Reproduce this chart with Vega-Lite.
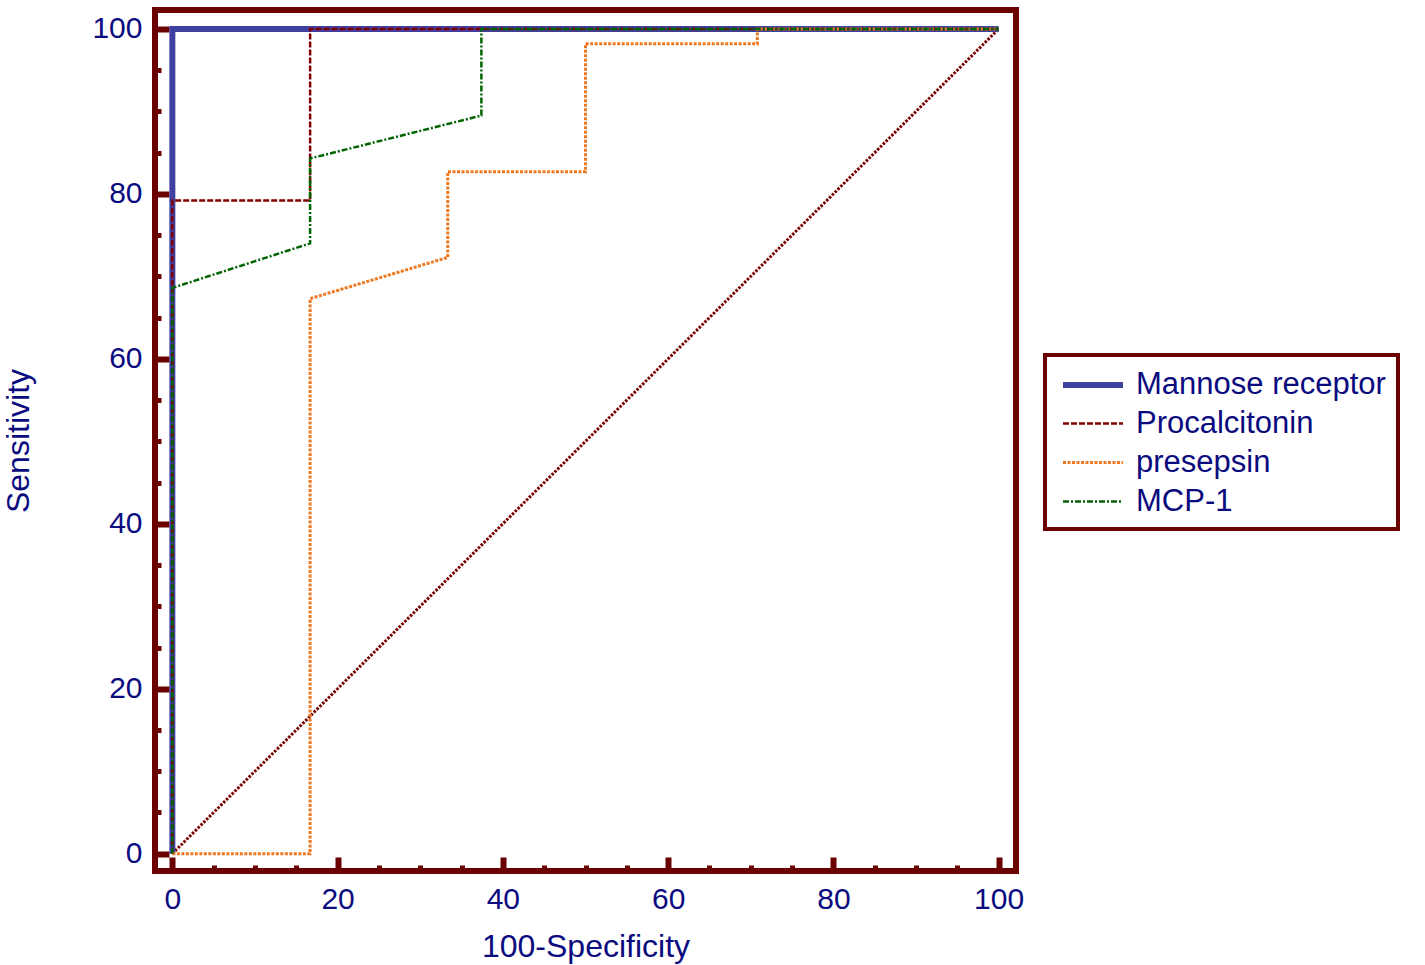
{
  "$schema": "https://vega.github.io/schema/vega-lite/v6.json",
  "width": 861,
  "height": 861,
  "autosize": {"type": "none"},
  "padding": {"left": 155, "top": 10, "right": 409, "bottom": 94},
  "background": "white",
  "config": {
    "font": "Liberation Sans",
    "view": {"stroke": "#6A0000", "strokeWidth": 6},
    "axis": {"domain": false, "grid": false, "tickColor": "#6A0000", "labelColor": "#0B0B80", "titleColor": "#0B0B80", "labelFont": "Liberation Sans", "titleFont": "Liberation Sans", "labelFontWeight": "normal", "titleFontWeight": "normal"}
  },
  "datasets": {
    "diag": [{"x": 0, "y": 0}, {"x": 100, "y": 100}],
    "roc": [
      {"test": "Mannose receptor", "i": 1, "x": 0, "y": 0},
      {"test": "Mannose receptor", "i": 2, "x": 0, "y": 100},
      {"test": "Mannose receptor", "i": 3, "x": 100, "y": 100},
      {"test": "Procalcitonin", "i": 1, "x": 0, "y": 0},
      {"test": "Procalcitonin", "i": 2, "x": 0, "y": 79.2},
      {"test": "Procalcitonin", "i": 3, "x": 16.67, "y": 79.2},
      {"test": "Procalcitonin", "i": 4, "x": 16.67, "y": 100},
      {"test": "Procalcitonin", "i": 5, "x": 100, "y": 100},
      {"test": "presepsin", "i": 1, "x": 0, "y": 0},
      {"test": "presepsin", "i": 2, "x": 16.67, "y": 0},
      {"test": "presepsin", "i": 3, "x": 16.67, "y": 67.3},
      {"test": "presepsin", "i": 4, "x": 33.33, "y": 72.3},
      {"test": "presepsin", "i": 5, "x": 33.33, "y": 82.7},
      {"test": "presepsin", "i": 6, "x": 50, "y": 82.7},
      {"test": "presepsin", "i": 7, "x": 50, "y": 98.2},
      {"test": "presepsin", "i": 8, "x": 70.8, "y": 98.2},
      {"test": "presepsin", "i": 9, "x": 70.8, "y": 100},
      {"test": "presepsin", "i": 10, "x": 100, "y": 100},
      {"test": "MCP-1", "i": 1, "x": 0, "y": 0},
      {"test": "MCP-1", "i": 2, "x": 0, "y": 68.6},
      {"test": "MCP-1", "i": 3, "x": 16.67, "y": 74},
      {"test": "MCP-1", "i": 4, "x": 16.67, "y": 84.3},
      {"test": "MCP-1", "i": 5, "x": 37.4, "y": 89.5},
      {"test": "MCP-1", "i": 6, "x": 37.4, "y": 100},
      {"test": "MCP-1", "i": 7, "x": 100, "y": 100}
    ]
  },
  "layer": [
    {
      "data": {"name": "diag"},
      "mark": {"type": "line", "color": "#7A0000", "strokeWidth": 3, "strokeDash": [2.5, 1.5]},
      "encoding": {
        "x": {"field": "x", "type": "quantitative", "scale": {"domain": [-2.1, 102.1], "nice": false, "zero": false},
          "axis": {"orient": "bottom", "values": [5,10,15,25,30,35,45,50,55,65,70,75,85,90,95], "labels": false, "title": null, "tickSize": -6, "tickWidth": 5}},
        "y": {"field": "y", "type": "quantitative", "scale": {"domain": [-2.1, 102.3], "nice": false, "zero": false},
          "axis": {"orient": "left", "values": [5,10,15,25,30,35,45,50,55,65,70,75,85,90,95], "labels": false, "title": null, "tickSize": -6, "tickWidth": 5}}
      }
    },
    {
      "data": {"name": "roc"},
      "mark": {"type": "line"},
      "encoding": {
        "x": {"field": "x", "type": "quantitative",
          "axis": {"orient": "bottom", "values": [0,20,40,60,80,100], "tickSize": -14, "tickWidth": 6, "labelPadding": 27, "labelFontSize": 30, "title": "100-Specificity", "titleFontSize": 32, "titlePadding": 17}},
        "y": {"field": "y", "type": "quantitative",
          "axis": {"orient": "left", "values": [0,20,40,60,80,100], "tickSize": -14, "tickWidth": 6, "labelPadding": 27, "labelFontSize": 30, "title": "Sensitivity", "titleFontSize": 32, "titlePadding": 56}},
        "order": {"field": "i", "type": "quantitative"},
        "color": {"field": "test", "type": "nominal", "title": null,
          "scale": {"domain": ["Mannose receptor", "Procalcitonin", "presepsin", "MCP-1"], "range": ["#4040A0", "#800000", "#F07820", "#006400"]},
          "legend": {"orient": "none", "legendX": 890, "legendY": 345, "symbolType": "M-0.8,0H3.2", "symbolSize": 900, "labelFontSize": 31, "labelColor": "#0B0B80", "labelOffset": 43, "padding": 12, "rowPadding": 7, "strokeColor": "#6A0000", "fillColor": "white", "labelLimit": 400,
            "encode": {"legend": {"update": {"strokeWidth": {"value": 4}}}}}},
        "strokeDash": {"field": "test", "type": "nominal", "title": null,
          "scale": {"domain": ["Mannose receptor", "Procalcitonin", "presepsin", "MCP-1"], "range": [[1, 0], [6, 2], [3, 1.5], [6, 2, 2, 2]]}},
        "strokeWidth": {"field": "test", "type": "nominal", "title": null,
          "scale": {"type": "ordinal", "domain": ["Mannose receptor", "Procalcitonin", "presepsin", "MCP-1"], "range": [6, 2.5, 3, 2.5]}}
      }
    }
  ],
  "resolve": {"axis": {"x": "independent", "y": "independent"}}
}
